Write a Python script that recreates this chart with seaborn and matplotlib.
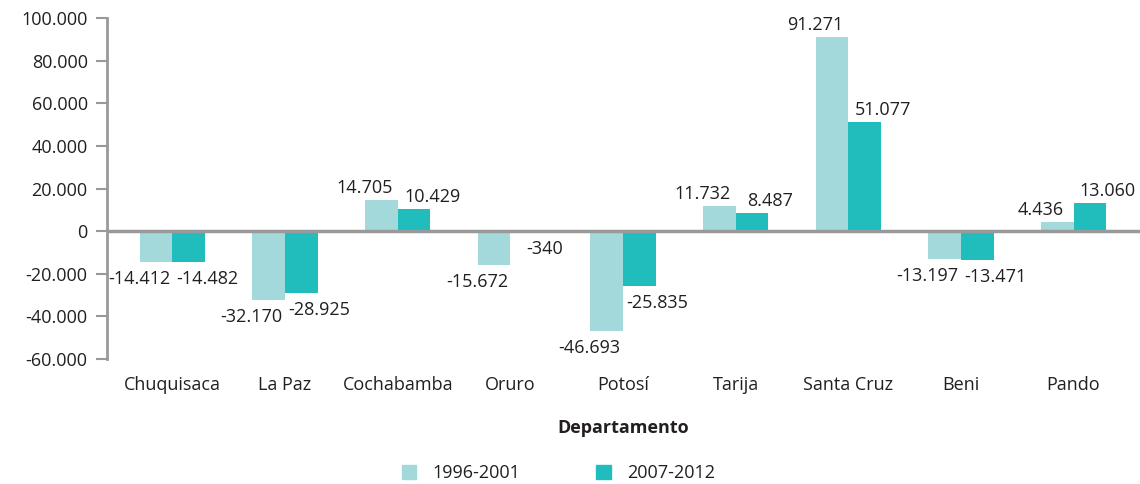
import matplotlib.pyplot as plt
import seaborn as sns
import pandas as pd

departamentos = ["Chuquisaca", "La Paz", "Cochabamba", "Oruro", "Potosí",
                 "Tarija", "Santa Cruz", "Beni", "Pando"]
periodo_1 = [-14412, -32170, 14705, -15672, -46693, 11732, 91271, -13197, 4436]
periodo_2 = [-14482, -28925, 10429, -340, -25835, 8487, 51077, -13471, 13060]
periodos = ["1996-2001", "2007-2012"]
colores = ["#A3D9DB", "#20BDBC"]

df = pd.DataFrame({
    "Departamento": departamentos * 2,
    "Valor": periodo_1 + periodo_2,
    "Periodo": [periodos[0]] * 9 + [periodos[1]] * 9,
})

sns.set_style("white")
plt.rcParams["font.family"] = ["Open Sans", "DejaVu Sans"]
fs = 13
text_color = "#231F20"


def fmt(v):
    return f"{v:,.0f}".replace(",", ".")


fig = plt.figure(figsize=(11.4, 4.84), dpi=100)
ax = fig.add_axes([0.094, 0.258, 0.906, 0.705])

sns.barplot(
    data=df,
    x="Departamento",
    y="Valor",
    hue="Periodo",
    palette=colores,
    width=0.58,
    saturation=1,
    linewidth=0,
    legend=False,
    ax=ax,
)

# value labels: first series nudged left, second nudged right
for i, cont in enumerate(ax.containers):
    dx = -17 if i == 0 else 18
    for b in cont:
        h = b.get_height()
        x = b.get_x() + b.get_width() / 2
        ax.annotate(
            fmt(h), (x, h),
            xytext=(dx, 3 if h >= 0 else -8),
            textcoords="offset pixels",
            ha="center", va="bottom" if h >= 0 else "top",
            fontsize=fs, color=text_color,
        )

ax.set_ylim(-60000, 100000)
ax.set_xlim(-0.58, 8.59)
ax.set_yticks(range(-60000, 100001, 20000))
ax.set_yticklabels([fmt(v) for v in range(-60000, 100001, 20000)],
                   color=text_color, fontsize=fs)
ax.axhline(0, color="#999999", lw=2.5, zorder=3)

for s in ["top", "right", "bottom"]:
    ax.spines[s].set_visible(False)
ax.spines["left"].set_color("#999999")
ax.spines["left"].set_linewidth(2)
ax.tick_params(axis="y", length=8, width=1.5, color="#999999", direction="out", left=True, pad=6)
ax.tick_params(axis="x", length=0, labelsize=fs, labelcolor=text_color, pad=12)

ax.set_xlabel("Departamento", fontsize=fs, fontweight="bold", color=text_color, labelpad=18)
ax.set_ylabel("")

handles = [plt.Rectangle((0, 0), 1, 1, color=c) for c in colores]
fig.legend(
    handles, periodos,
    loc="center",
    bbox_to_anchor=(0.49, 0.022),
    ncol=2,
    frameon=False,
    fontsize=fs,
    handlelength=0.8,
    handleheight=0.8,
    columnspacing=4.2,
    handletextpad=0.9,
    labelcolor=text_color,
)

plt.savefig("out.png", dpi=100)
plt.close()
